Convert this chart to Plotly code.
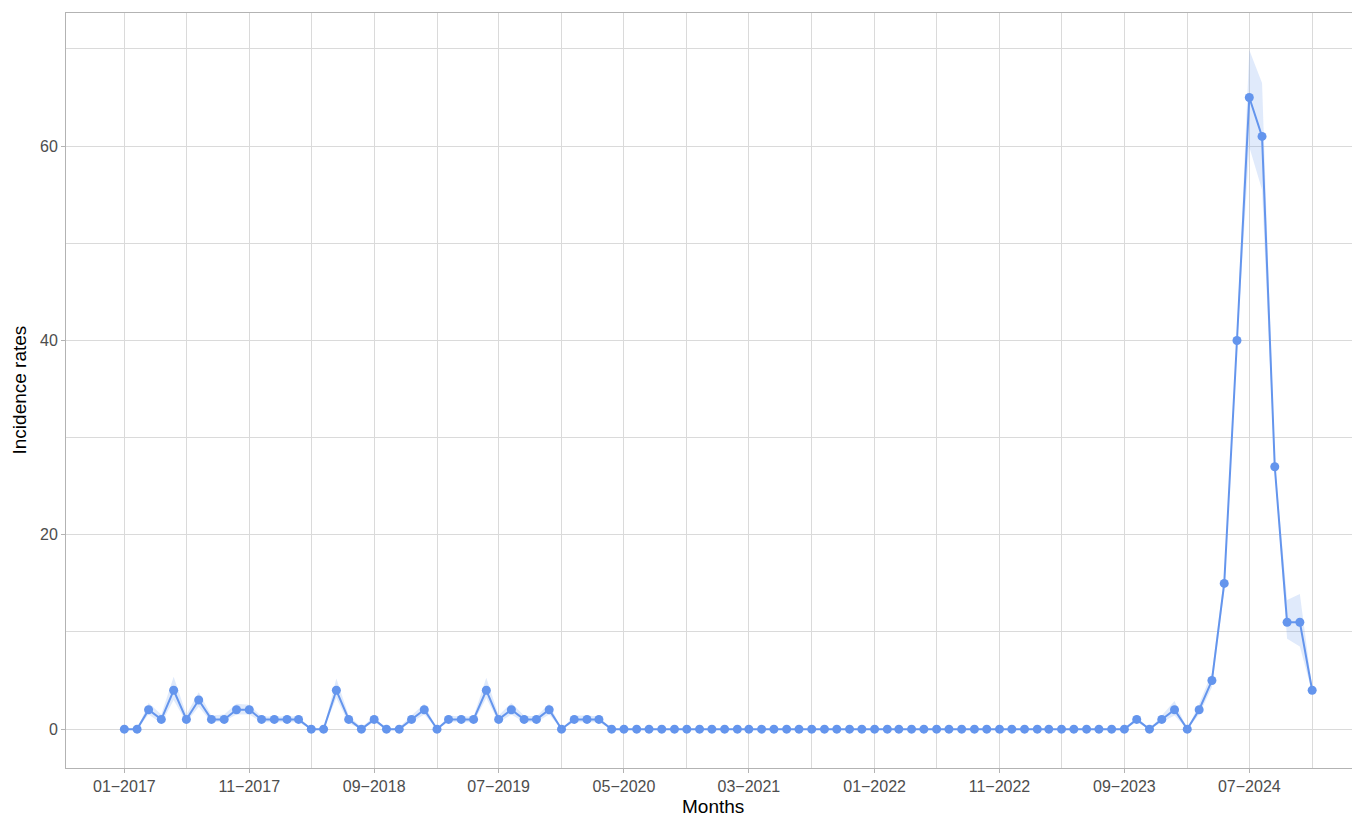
import pandas as pd
import plotly.graph_objects as go

months = pd.date_range("2017-01-01", periods=96, freq="MS")

rate = [0, 0, 2, 1, 4, 1, 3, 1, 1, 2,
        2, 1, 1, 1, 1, 0, 0, 4, 1, 0,
        1, 0, 0, 1, 2, 0, 1, 1, 1, 4,
        1, 2, 1, 1, 2, 0, 1, 1, 1, 0,
        0, 0, 0, 0, 0, 0, 0, 0, 0, 0,
        0, 0, 0, 0, 0, 0, 0, 0, 0, 0,
        0, 0, 0, 0, 0, 0, 0, 0, 0, 0,
        0, 0, 0, 0, 0, 0, 0, 0, 0, 0,
        0, 1, 0, 1, 2, 0, 2, 5, 15, 40,
        65, 61, 27, 11, 11, 4]

lower = [0, 0, 1.5, 0.6, 3.0, 0.7, 2.3, 0.7, 0.8, 1.5,
         1.5, 0.7, 0.7, 0.7, 0.7, 0, 0, 3.2, 0.6, 0,
         0.7, 0, 0, 0.7, 1.5, 0, 0.7, 0.7, 0.7, 3.2,
         0.7, 1.5, 0.7, 0.7, 1.5, 0, 0.7, 0.7, 0.7, 0,
         0, 0, 0, 0, 0, 0, 0, 0, 0, 0,
         0, 0, 0, 0, 0, 0, 0, 0, 0, 0,
         0, 0, 0, 0, 0, 0, 0, 0, 0, 0,
         0, 0, 0, 0, 0, 0, 0, 0, 0, 0,
         0, 0.7, 0, 0.7, 1.4, 0, 1.5, 4.3, 14.3, 39.6,
         59.9, 55.5, 26.6, 9.3, 8.5, 3.8]

upper = [0, 0, 2.7, 1.5, 5.4, 1.5, 3.8, 1.4, 1.5, 2.6,
         2.5, 1.3, 1.3, 1.3, 1.3, 0, 0, 5.2, 1.4, 0.2,
         1.3, 0, 0.2, 1.4, 2.6, 0, 1.4, 1.3, 1.3, 5.3,
         1.4, 2.7, 1.4, 1.3, 2.6, 0, 1.4, 1.4, 1.3, 0,
         0, 0, 0, 0, 0, 0, 0, 0, 0, 0,
         0, 0, 0, 0, 0, 0, 0, 0, 0, 0,
         0, 0, 0, 0, 0, 0, 0, 0, 0, 0,
         0, 0, 0, 0, 0, 0, 0, 0, 0, 0,
         0, 1.3, 0, 1.4, 2.9, 0, 2.6, 5.8, 15.8, 40.5,
         69.9, 66.5, 27.5, 13.3, 13.9, 4.2]

x_tick_dates = ["2017-01-01", "2017-11-01", "2018-09-01", "2019-07-01", "2020-05-01",
                "2021-03-01", "2022-01-01", "2022-11-01", "2023-09-01", "2024-07-01"]
x_tick_labels = ["01\u22122017", "11\u22122017", "09\u22122018", "07\u22122019", "05\u22122020",
                 "03\u22122021", "01\u22122022", "11\u22122022", "09\u22122023", "07\u22122024"]
x_minor_dates = ["2017-06-01", "2018-04-01", "2019-02-01", "2019-12-01", "2020-10-01",
                 "2021-08-01", "2022-06-01", "2023-04-01", "2024-02-01", "2024-12-01"]
y_ticks = [0, 20, 40, 60]
y_minor = [10, 30, 50, 70]

blue = "#6495ED"
band = "rgba(100,149,237,0.2)"
grid = "#dadada"
border = "#b3b3b3"

fig = go.Figure()
fig.add_trace(go.Scatter(x=months, y=upper, mode="lines", line=dict(width=0),
                         hoverinfo="skip", showlegend=False))
fig.add_trace(go.Scatter(x=months, y=lower, mode="lines", line=dict(width=0),
                         fill="tonexty", fillcolor=band, hoverinfo="skip", showlegend=False))
fig.add_trace(go.Scatter(x=months, y=rate, mode="lines+markers",
                         line=dict(color=blue, width=2),
                         marker=dict(color=blue, size=9),
                         showlegend=False))

font_family = "Liberation Sans, Arial, Helvetica, sans-serif"

# the page body adds an 8px offset; size the figure so the panel lands where the reference has it
fig.update_layout(
    width=1352, height=808,
    margin=dict(l=58, r=1, t=5, b=48, autoexpand=False),
    plot_bgcolor="white", paper_bgcolor="white",
    font=dict(family=font_family),
    xaxis=dict(
        range=["2016-08-12", "2025-03-25"],
        automargin=False,
        tickmode="array", tickvals=x_tick_dates, ticktext=x_tick_labels,
        tickfont=dict(size=16, color="#4d4d4d"),
        ticks="outside", ticklen=4, tickcolor=border, tickwidth=1,
        showgrid=True, gridcolor=grid, gridwidth=1.4,
        minor=dict(tickmode="array", tickvals=x_minor_dates, showgrid=True,
                   gridcolor=grid, gridwidth=0.7, ticks=""),
        showline=True, linecolor=border, linewidth=1, mirror=True,
        zeroline=False,
    ),
    yaxis=dict(
        range=[-4.0, 73.7],
        automargin=False,
        tickmode="array", tickvals=y_ticks,
        tickfont=dict(size=16, color="#4d4d4d"),
        ticks="outside", ticklen=4, tickcolor=border, tickwidth=1,
        showgrid=True, gridcolor=grid, gridwidth=1.4,
        minor=dict(tickmode="array", tickvals=y_minor, showgrid=True,
                   gridcolor=grid, gridwidth=0.7, ticks=""),
        showline=True, linecolor=border, linewidth=1, mirror=True,
        zeroline=False,
    ),
    annotations=[
        dict(text="Months", xref="paper", yref="paper", x=0.5, y=0,
             yshift=-38, xanchor="center", yanchor="middle", showarrow=False,
             font=dict(size=19, color="black")),
        dict(text="Incidence rates", xref="paper", yref="paper", x=0, y=0.5,
             xshift=-47, xanchor="center", yanchor="middle", textangle=-90,
             showarrow=False, font=dict(size=19, color="black")),
    ],
)

fig.write_html("out.html")
